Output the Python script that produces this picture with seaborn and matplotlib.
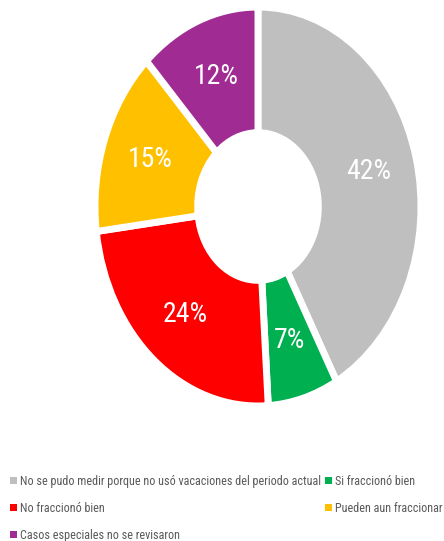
import matplotlib.pyplot as plt
plt.switch_backend('agg')
import seaborn as sns
from matplotlib.patches import Patch

labels = ["No se pudo medir porque no usó vacaciones del periodo actual",
          "Si fraccionó bien",
          "No fraccionó bien",
          "Pueden aun fraccionar",
          "Casos especiales no se revisaron"]
values = [42, 7, 24, 15, 12]
colors = ["#BFBFBF", "#00B050", "#FF0000", "#FFC000", "#A02B93"]

sns.set_style("white")
plt.rcParams['font.family'] = ['Roboto Condensed', 'DejaVu Sans']
palette = sns.color_palette(colors)

W, H = 444, 541
fig = plt.figure(figsize=(W / 100, H / 100), dpi=100)
ax = fig.add_axes([95 / W, 1 - 406 / H, 326 / W, 399 / H])

wedges, texts, autotexts = ax.pie(
    values, colors=palette, startangle=90, counterclock=False,
    autopct='%1.0f%%', pctdistance=0.70,
    wedgeprops=dict(width=0.63, edgecolor='white', linewidth=5),
    textprops=dict(color='white', fontsize=20))
ax.set_aspect('auto')
ax.set_xlim(-1.0, 1.0)
ax.set_ylim(-1.0, 1.0)

handles = [Patch(facecolor=c, edgecolor='none') for c in palette]
order = [0, 2, 4, 1, 3]
fig.legend([handles[i] for i in order], [labels[i] for i in order],
           loc='upper left', bbox_to_anchor=(10 / W, 1 - 475 / H),
           ncol=2, frameon=False, fontsize=8.7, labelcolor='#595959',
           handlelength=0.55, handleheight=0.55, handletextpad=0.3,
           labelspacing=1.14, columnspacing=0.3, borderpad=0, borderaxespad=0)

plt.savefig("out.png", dpi=100)
